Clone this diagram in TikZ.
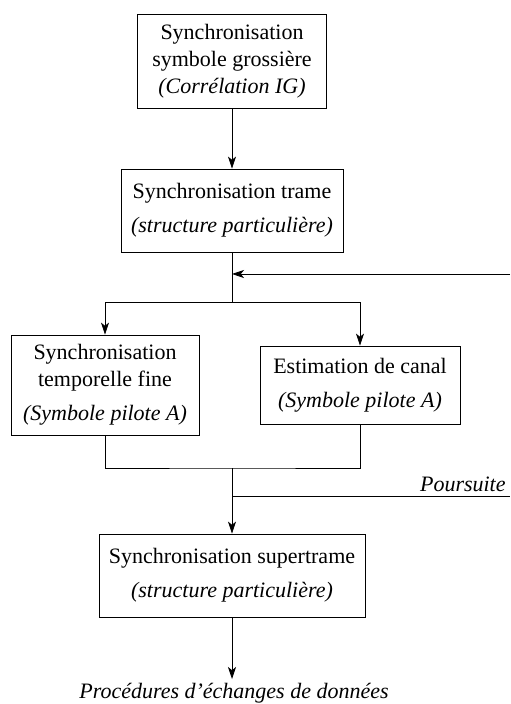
\documentclass[tikz,border=0pt]{standalone}
\usepackage{fontspec}
\setmainfont{Liberation Serif}
\usetikzlibrary{arrows.meta}
\tikzset{>={Stealth[length=6pt,width=4pt,inset=1.6pt]}}
\tikzset{bloc/.style={draw,align=center,inner sep=0pt,font=\fontsize{11}{13.5}\selectfont}}

\begin{document}
\begin{tikzpicture}[x=0.5pt,y=-0.5pt]
  \useasboundingbox (0,0) rectangle (510,704);
  % Blocs
  \node[bloc,minimum width=94.5pt,minimum height=47pt] (grossiere) at (232,61)
    {Synchronisation\\symbole grossière\\\textit{(Corrélation IG)}};
  \node[bloc,minimum width=111pt,minimum height=41.5pt] (trame) at (232,210.5)
    {Synchronisation trame\\[3.5pt]\textit{(structure particulière)}};
  \node[bloc,minimum width=94pt,minimum height=50pt] (fine) at (105,385)
    {Synchronisation\\temporelle fine\\[3.5pt]\textit{(Symbole pilote A)}};
  \node[bloc,minimum width=100pt,minimum height=39pt] (canal) at (360,385)
    {Estimation de canal\\[3.5pt]\textit{(Symbole pilote A)}};
  \node[bloc,minimum width=133pt,minimum height=41.5pt] (supertrame) at (232,575.5)
    {Synchronisation supertrame\\[3.5pt]\textit{(structure particulière)}};
  \node[font=\fontsize{11}{13.5}\selectfont\itshape,inner sep=0pt] (donnees) at (234,693)
    {Procédures d’échanges de données};
  % Points
  \coordinate (retour) at (232,274);
  \coordinate (entree) at (510,274);
  \coordinate (split) at (232,302);
  \coordinate (merge) at (232,468);
  \coordinate (pbranch) at (232,496);
  \coordinate (pout) at (510,496);
  \coordinate (fin) at (232,679);
  % Lines
  \draw[->] (grossiere) -- (trame);
  \draw[->] (trame.south) -- (split) -| (fine.north);
  \draw[->] (split) -| (canal.north);
  \draw[->] (entree) -- (retour);
  \draw (fine.south) |- (merge) -| (canal.south);
  \draw[->] (merge) -- (supertrame.north);
  \draw (pbranch) -- (pout)
    node[pos=1,above left,inner sep=2pt,font=\fontsize{11}{13.5}\selectfont\itshape] {Poursuite};
  \draw[->] (supertrame.south) -- (fin);
\end{tikzpicture}
\end{document}
